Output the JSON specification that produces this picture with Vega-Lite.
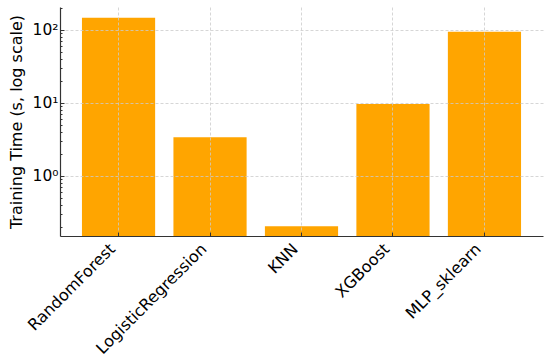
{
  "$schema": "https://vega.github.io/schema/vega-lite/v6.json",
  "width": 483,
  "height": 229,
  "autosize": "none",
  "padding": {"left": 60, "top": 7, "right": 7, "bottom": 121},
  "background": "white",
  "config": {"view": {"stroke": null}, "font": "DejaVu Sans"},
  "data": {"values": [
    {"model": "RandomForest", "time": 146},
    {"model": "LogisticRegression", "time": 3.36},
    {"model": "KNN", "time": 0.203},
    {"model": "XGBoost", "time": 9.6},
    {"model": "MLP_sklearn", "time": 94}
  ]},
  "mark": {"type": "bar", "color": "orange"},
  "encoding": {
    "x": {
      "field": "model", "type": "nominal", "sort": null,
      "scale": {"paddingInner": 0.2, "paddingOuter": 0.24},
      "axis": {
        "title": null, "zindex": 1,
        "labelAngle": -45, "labelAlign": "right", "labelBaseline": "middle",
        "labelFontSize": 16, "labelColor": "#000", "labelPadding": 14, "labelOffset": -6,
        "domainColor": "#333", "domainWidth": 1.2,
        "tickColor": "#333", "tickSize": -4,
        "grid": true, "gridColor": "#ccc", "gridDash": [3, 2], "gridWidth": 0.8
      }
    },
    "y": {
      "field": "time", "type": "quantitative",
      "scale": {"type": "log", "domain": [0.149, 205], "nice": false},
      "axis": {
        "title": "Training Time (s, log scale)", "titleFontSize": 16, "titleFontWeight": "normal", "titleColor": "#000", "titlePadding": 8,
        "zindex": 1,
        "values": [0.2,0.3,0.4,0.5,0.6,0.7,0.8,0.9,1,2,3,4,5,6,7,8,9,10,20,30,40,50,60,70,80,90,100,200],
        "labelExpr": "datum.value == 1 ? '10⁰' : datum.value == 10 ? '10¹' : datum.value == 100 ? '10²' : ''",
        "labelFontSize": 15.5, "labelColor": "#000", "labelPadding": 6,
        "domainColor": "#333", "domainWidth": 1.2,
        "tickColor": "#333",
        "tickSize": {"condition": {"test": "datum.value == 1 || datum.value == 10 || datum.value == 100", "value": -4}, "value": -2},
        "grid": true, "gridColor": "#ccc", "gridDash": [3, 2], "gridWidth": 0.8,
        "gridOpacity": {"condition": {"test": "datum.value == 1 || datum.value == 10 || datum.value == 100", "value": 1}, "value": 0}
      }
    },
    "y2": {"datum": 0.149}
  }
}
